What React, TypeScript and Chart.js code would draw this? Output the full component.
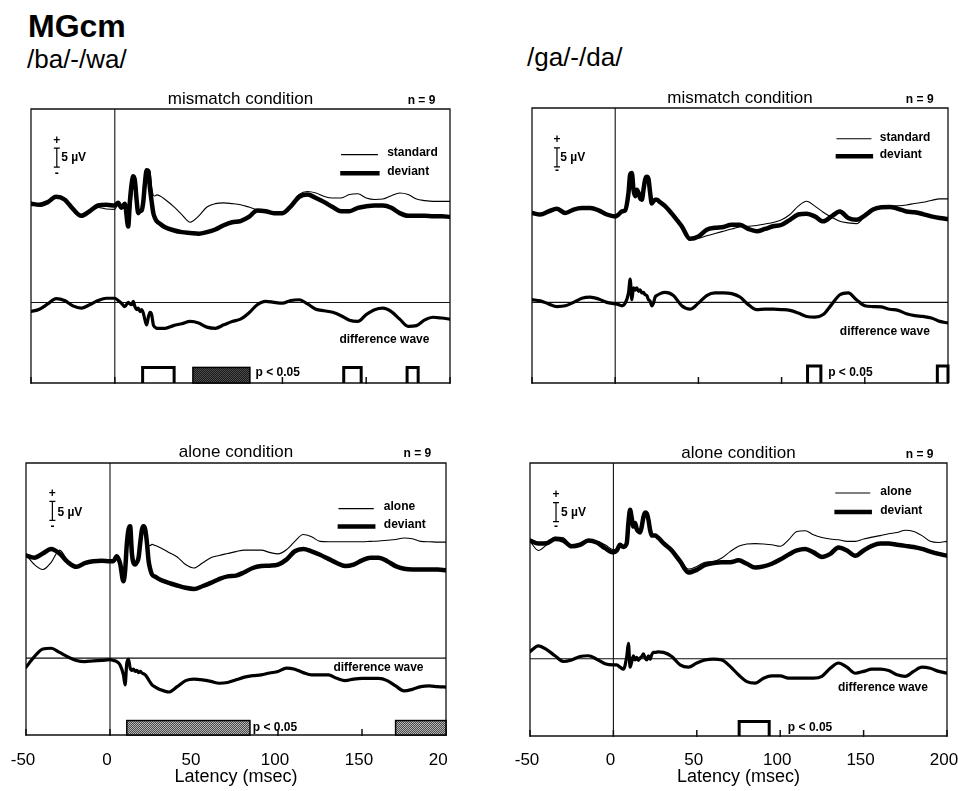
import React, { useEffect, useRef } from "react";
import { Chart, registerables } from "chart.js";

Chart.register(...registerables);

const FONT = '"Liberation Sans", Arial, Helvetica, sans-serif';

// ---------- data ----------
const latency = [
  -50, -45, -40, -35, -30, -25, -20, -15, -10, -5, 0,
  2, 4, 6, 8,
  9, 10, 11, 12, 13, 14, 15, 16, 17, 18, 19, 20, 21, 22, 23, 24, 25,
  27, 30,
  35, 40, 45, 50, 55, 60, 65, 70, 75, 80,
  85, 90, 95, 100, 105, 110, 115, 120, 125, 130,
  135, 140, 145, 150, 155, 160, 165, 170, 175, 180,
  185, 190, 195, 200,
];

const tickValues = [-50, 0, 50, 100, 150, 200];
const tickLabels = ["-50", "0", "50", "100", "150", "200"];

// /ba/-/wa/ mismatch condition (µV, relative to pre-stimulus level of each trace)
const baStandardMismatch = [
  0, -0.3, 0.4, 1.6, 1.0, -1.4, -3.0, -2.0, -1.0, -1.4, -1.5,
  0, -0.8, 0.3, -4.5,
  -3.0, 1.0, 5.5, 7.0, 4.5, -1.5, -1.6, -1.2, 0, 3.0, 7.0, 9.0, 8.5, 4.5, 2.2, 2.0, 2.3,
  2.0, 1.1,
  -0.7, -2.9, -4.9, -3.3, -0.9, 0, 0.2, 0, -0.3, -0.9,
  -1.6, -2.0, -2.5, -2.3, -0.3, 2.4, 3.2, 2.8, 1.9, 1.5,
  1.5, 2.4, 2.6, 1.5, 1.1, 1.2, 2.1, 2.8, 2.4, 1.2,
  0.8, 0.6, 0.6, 0.6,
];
const baDeviantMismatch = [
  0, -0.3, 0.4, 1.8, 1.1, -1.4, -3.2, -2.0, -0.5, -0.3, -0.5,
  0.2, -1.1, 0, -6.0,
  0.5, 5.0, 7.2, 6.0, 1.0, -2.5, -2.0, -1.8, 0.5, 5.5, 8.8, 8.5, 4.0, 0.5, -2.5, -3.8, -4.6,
  -5.3, -6.2,
  -7.0, -7.5, -7.7, -7.9, -7.5, -6.8, -5.7, -4.9, -4.6, -3.5,
  -1.8, -2.0, -2.5, -2.5, -0.7, 1.8, 2.4, 1.5, 0.4, -0.9,
  -2.0, -2.0, -1.1, -0.7, -0.5, -0.5, -1.1, -2.5, -3.2, -3.2,
  -3.2, -3.3, -3.3, -3.5,
];
const baDiffMismatch = [
  -2.4, -1.8, -0.4, 1.0, 0.5, -0.9, -1.5, -0.6, 0.5, 1.1, 1.1,
  0.5, -0.2, -1.1, 0,
  -0.4, -0.6, 0.3, -1.1, -1.9, -1.5, -2.4, -1.9, -2.8, -4.6, -5.9, -3.9, -2.6, -3.2, -5.9, -6.5, -6.8,
  -6.8, -6.8,
  -6.1, -5.6, -5.0, -5.4, -6.5, -6.8, -5.9, -5.0, -4.4, -2.8,
  -0.6, 0.3, 0, -0.2, 0.5, 0.7, -0.4, -1.8, -2.2, -2.6,
  -3.5, -4.7, -5.0, -3.2, -1.9, -1.5, -2.4, -4.4, -6.3, -6.1,
  -4.6, -3.9, -4.1, -4.4,
];

// /ga/-/da/ mismatch condition
const gaStandardMismatch = [
  0.2, -0.2, 0.6, 1.0, 0.2, 1.0, 1.4, 1.2, 0.6, -0.5, -0.8,
  -0.3, 0.5, 0.9, 4.5,
  9.5, 10.0, 6.5, 4.8, 5.8, 5.0, 3.8, 3.8, 6.5, 8.5, 9.2, 8.5, 5.0, 2.8, 3.2, 3.4, 3.3,
  2.8, 1.5,
  -1.0, -4.0, -6.5, -6.6, -6.0, -5.4, -4.8, -4.2, -3.7, -3.5,
  -3.3, -2.9, -2.5, -1.8, -0.4, 1.8, 3.1, 1.8, 0.2, -1.1,
  -2.2, -2.6, -2.8, -0.9, 1.1, 1.5, 1.8, 1.9, 2.1, 2.5,
  2.8, 3.3, 3.7, 3.7,
];
const gaDeviantMismatch = [
  0, -0.4, 0.4, 1.1, 0, 0.9, 1.3, 1.3, 0.7, -0.4, -0.9,
  -0.4, 0.4, 0.7, 5.3,
  10.1, 10.5, 6.1, 4.4, 6.1, 5.3, 3.9, 3.5, 6.1, 8.8, 9.5, 8.9, 5.3, 2.5, 3.1, 3.5, 3.5,
  2.8, 1.8,
  -0.7, -3.5, -6.8, -6.2, -4.4, -3.9, -3.7, -3.1, -3.1, -4.2,
  -4.8, -4.2, -3.5, -3.1, -1.8, -0.4, -0.2, -0.9, -2.2, -0.9,
  0.4, -1.3, -1.8, -0.7, 0.9, 1.5, 1.6, 1.1, 0.4, 0.2,
  -0.3, -0.9, -1.3, -1.6,
];
const gaDiffMismatch = [
  0.7, 0.4, -0.4, -1.1, -0.9, 0, 1.1, 1.4, 0.9, 0, -0.4,
  -0.6, -0.9, -0.2, 2.5,
  6.1, 0.7, 3.8, 3.2, 3.8, 2.9, 3.3, 2.5, 2.6, 2.0, 1.8, 0.7, 0.3, -0.9, -0.2, 1.4, 1.8,
  2.3, 2.6,
  1.8, -0.9, -1.8, -0.2, 1.8, 2.5, 2.5, 2.3, 1.4, -0.6,
  -1.9, -1.8, -1.8, -1.9, -2.1, -2.8, -3.7, -3.9, -3.2, -0.6,
  2.0, 2.5, 0.7, -0.9, -1.1, -1.2, -1.8, -2.1, -3.0, -3.5,
  -3.7, -4.1, -5.0, -5.4,
];

// /ba/-/wa/ alone condition
const baAlone = [
  1.2, -1.4, -2.7, -0.8, 2.4, -0.5, -1.8, -1.0, -0.5, -0.4, -0.5,
  -0.5, 0.6, -0.8, -3.5,
  -2.5, 1.0, 6.0, 8.5, 6.0, 0.5, -0.8, -0.3, 1.0, 4.8, 8.0, 8.8, 8.2, 5.5, 3.5, 3.6, 3.9,
  3.6, 3.0,
  1.8, 0.6, -1.4, -2.3, -1.0, 0.4, 1.0, 1.5, 2.0, 2.4,
  2.4, 2.4, 1.8, 1.4, 2.5, 4.7, 6.5, 5.9, 4.7, 4.6,
  4.6, 4.6, 4.6, 4.6, 4.7, 4.8, 5.0, 5.2, 5.6, 5.4,
  4.7, 4.6, 4.5, 4.5,
];
const baDeviantAlone = [
  1.0, 0.4, 1.5, 2.7, 1.5, -0.8, -2.0, -1.0, -0.5, -0.4, -0.5,
  -0.5, 0.8, -1.1, -5.8,
  -3.0, 3.9, 7.8, 8.7, 1.7, -1.0, -1.4, -0.8, 0.4, 4.3, 7.8, 8.7, 7.8, 4.3, -0.5, -2.7, -4.0,
  -4.6, -5.4,
  -6.2, -6.9, -7.5, -7.8, -7.1, -6.2, -5.2, -4.5, -4.3, -3.4,
  -2.3, -1.8, -1.7, -1.4, -0.1, 2.1, 2.7, 2.1, 1.2, 0.1,
  -1.0, -1.8, -1.4, -0.3, 0.4, 0.4, -0.5, -1.8, -2.5, -2.7,
  -2.7, -2.7, -2.7, -2.9,
];
const baDiffAlone = [
  -2.4, 0.4, 2.4, 2.6, 1.5, 0.3, -0.6, -0.9, -0.7, -0.6, -0.4,
  -0.6, -0.9, -1.8, -4.4,
  -7.0, -1.3, -0.3, -2.6, -3.2, -2.9, -3.5, -3.2, -3.8, -3.5, -3.9, -4.1, -4.4, -5.0, -5.7, -6.4, -7.0,
  -7.6, -8.3,
  -8.9, -7.5, -5.9, -5.5, -5.7, -6.1, -6.6, -6.4, -5.7, -5.0,
  -4.6, -4.4, -3.9, -3.5, -2.6, -2.9, -3.8, -4.4, -4.4, -4.4,
  -5.3, -5.9, -5.5, -5.3, -5.3, -5.3, -5.9, -7.3, -8.6, -8.2,
  -7.5, -7.3, -7.5, -7.6,
];

// /ga/-/da/ alone condition
const daAlone = [
  0.9, -1.5, 0, 2.0, 1.8, -0.3, 0, 0.9, 0.9, 0, -1.3,
  -1.0, 0.3, -0.3, 0.8,
  5.5, 9.0, 7.2, 5.0, 5.5, 4.3, 3.6, 3.4, 5.0, 7.0, 8.3, 8.0, 6.8, 4.2, 2.6, 2.5, 2.4,
  1.8, 0.6,
  -1.2, -3.8, -6.4, -5.7, -4.6, -4.4, -3.5, -1.8, -0.4, 0.2,
  0.3, 0.2, 0, -0.4, 1.3, 3.5, 3.7, 2.6, 1.9, 1.5,
  1.3, 0.9, 0.9, 1.5, 2.0, 2.4, 2.9, 3.2, 3.8, 3.5,
  2.4, 0.9, 0.6, 0.9,
];
const daDeviantAlone = [
  1.1, 0.3, 0.4, 1.5, 1.1, -0.4, 0, 1.1, 0.6, -0.9, -2.0,
  -1.5, 0, -0.6, 0.4,
  5.7, 9.2, 7.0, 4.8, 5.7, 4.1, 3.5, 3.2, 4.8, 7.3, 8.5, 8.2, 6.6, 3.9, 2.4, 2.4, 2.4,
  1.8, 0.4,
  -1.5, -4.4, -7.3, -6.6, -5.3, -4.8, -4.6, -4.6, -4.1, -5.0,
  -6.0, -5.7, -5.0, -3.9, -2.6, -1.5, -1.1, -2.0, -3.2, -2.4,
  -0.7, -1.5, -2.9, -1.5, -0.3, 0.3, 0.3, 0, -0.3, -0.6,
  -1.1, -1.8, -2.4, -2.9,
];
const daDiffAlone = [
  1.9, 3.4, 2.4, 0.8, -0.7, -0.3, 0.6, 0.8, -0.1, -1.3, -1.6,
  -1.6, -2.2, -2.7, 0.6,
  4.1, -2.2, -0.7, 0.8, -0.3, 0.4, -0.4, 0.2, 0.6, 1.3, 0.2, -0.3, 0.8, -0.1, 1.1, 1.7, 1.7,
  1.8, 1.7,
  0.6, -1.6, -2.2, -1.1, -0.3, -0.1, -0.3, -2.0, -4.2, -6.0,
  -6.4, -5.1, -4.5, -4.5, -5.1, -5.1, -5.1, -5.1, -4.6, -2.5,
  -1.1, -2.2, -3.8, -3.3, -2.7, -2.7, -3.1, -4.2, -4.6, -3.3,
  -2.2, -2.5, -3.3, -3.8,
];

// significance intervals (ms): p < 0.05
type Sig = { from: number; to: number; filled: boolean };
const sigBaMismatch: Sig[] = [
  { from: 16.6, to: 35.4, filled: false },
  { from: 46.6, to: 80.6, filled: true },
  { from: 136.6, to: 147, filled: false },
  { from: 174.4, to: 181, filled: false },
];
const sigGaMismatch: Sig[] = [
  { from: 115.6, to: 123.6, filled: false },
  { from: 193.6, to: 200, filled: false },
];
const sigBaAlone: Sig[] = [
  { from: 10, to: 83.3, filled: true },
  { from: 170, to: 200, filled: true },
];
const sigDaAlone: Sig[] = [{ from: 75.4, to: 93.4, filled: false }];

// ---------- panel layout ----------
type Panel = {
  key: string;
  left: number; top: number; width: number; height: number;
  pad: { left: number; right: number; top: number; bottom: number };
  yMin: number; yMax: number; offset: number;
  title: string; titleDy: number; nX: number;
  thinName: string; thin: number[]; thick: number[]; diff: number[];
  sig: Sig[]; sigH: number; shade: "dark" | "mid"; pX: number; pY: number;
  legend: { x0: number; x1: number; y1: number; y2: number; tx: number };
  bar: { x: number; y0: number; plusY: number; minusY: number; tx: number; ty: number };
  diffLabel: { x: number; y: number };
  axis: null | { height: number; padding: number };
};

const panels: Panel[] = [
  {
    key: "tl", left: 10, top: 84, width: 470, height: 312,
    pad: { left: 21, right: 30, top: 25, bottom: 13 },
    yMin: -21.2, yMax: 50.9, offset: 26,
    title: "mismatch condition", titleDy: -5, nX: 183,
    thinName: "standard", thin: baStandardMismatch, thick: baDeviantMismatch, diff: baDiffMismatch,
    sig: sigBaMismatch, sigH: 4.1, shade: "dark", pX: 84, pY: -18.6,
    legend: { x0: 135, x1: 157, y1: 38.9, y2: 34.0, tx: 162.5 },
    bar: { x: -34.6, y0: 35.6, plusY: 42.5, minusY: 34.0, tx: -32, ty: 38.2 },
    diffLabel: { x: 134, y: -9.8 },
    axis: null,
  },
  {
    key: "tr", left: 500, top: 84, width: 458, height: 312,
    pad: { left: 32, right: 10, top: 24, bottom: 13 },
    yMin: -21.2, yMax: 51.1, offset: 23.5,
    title: "mismatch condition", titleDy: -5, nX: 183,
    thinName: "standard", thin: gaStandardMismatch, thick: gaDeviantMismatch, diff: gaDiffMismatch,
    sig: sigGaMismatch, sigH: 4.5, shade: "dark", pX: 128, pY: -18.6,
    legend: { x0: 133, x1: 154, y1: 43.0, y2: 38.4, tx: 159 },
    bar: { x: -35, y0: 35.6, plusY: 42.8, minusY: 34.7, tx: -33, ty: 38 },
    diffLabel: { x: 135, y: -7.6 },
    axis: null,
  },
  {
    key: "bl", left: 0, top: 438, width: 447, height: 353,
    pad: { left: 26, right: 1, top: 25, bottom: 0 },
    yMin: -20.2, yMax: 51.3, offset: 26,
    title: "alone condition", titleDy: -6, nX: 183,
    thinName: "alone", thin: baAlone, thick: baDeviantAlone, diff: baDiffAlone,
    sig: sigBaAlone, sigH: 3.8, shade: "mid", pX: 85, pY: -18.4,
    legend: { x0: 136, x1: 157, y1: 39.3, y2: 34.6, tx: 163 },
    bar: { x: -34.3, y0: 36.2, plusY: 43.2, minusY: 34.5, tx: -31.3, ty: 38.3 },
    diffLabel: { x: 133, y: -2.4 },
    axis: { height: 56, padding: 15 },
  },
  {
    key: "br", left: 500, top: 438, width: 458, height: 353,
    pad: { left: 30, right: 11, top: 25, bottom: 0 },
    yMin: -20.3, yMax: 51.5, offset: 30,
    title: "alone condition", titleDy: -5, nX: 183.6,
    thinName: "alone", thin: daAlone, thick: daDeviantAlone, diff: daDiffAlone,
    sig: sigDaAlone, sigH: 3.8, shade: "dark", pX: 104.6, pY: -18.2,
    legend: { x0: 133, x1: 154, y1: 43.6, y2: 38.6, tx: 160 },
    bar: { x: -34.4, y0: 36.1, plusY: 43.2, minusY: 34.8, tx: -31.4, ty: 38.5 },
    diffLabel: { x: 134.6, y: -7.5 },
    axis: { height: 55, padding: 14 },
  },
];

function toPoints(values: number[], offset: number) {
  return latency.map((t, i) => ({ x: t, y: values[i] + offset }));
}

function makePattern(ctx: CanvasRenderingContext2D, shade: "dark" | "mid") {
  const c = document.createElement("canvas");
  c.width = 2;
  c.height = 2;
  const g = c.getContext("2d")!;
  const a = shade === "dark" ? "#1c1c1c" : "#4a4a4a";
  const b = shade === "dark" ? "#4a4a4a" : "#b5b5b5";
  g.fillStyle = a;
  g.fillRect(0, 0, 2, 2);
  g.fillStyle = b;
  g.fillRect(0, 0, 1, 1);
  g.fillRect(1, 1, 1, 1);
  return ctx.createPattern(c, "repeat");
}

function makeDecor(p: Panel) {
  return {
    id: "decor_" + p.key,
    beforeDatasetsDraw(chart: any) {
      const { ctx, chartArea: a } = chart;
      const x = chart.scales.x;
      const y = chart.scales.y;
      ctx.save();
      ctx.strokeStyle = "#111";
      ctx.lineCap = "butt";
      // frame
      ctx.lineWidth = 1.3;
      ctx.beginPath();
      ctx.moveTo(a.left, a.bottom);
      ctx.lineTo(a.left, a.top);
      ctx.lineTo(a.right, a.top);
      ctx.lineTo(a.right, a.bottom);
      ctx.stroke();
      // x axis line and inward ticks
      ctx.lineWidth = 1.5;
      ctx.beginPath();
      ctx.moveTo(a.left, a.bottom);
      ctx.lineTo(a.right, a.bottom);
      for (const v of tickValues) {
        const px = x.getPixelForValue(v);
        ctx.moveTo(px, a.bottom - 6);
        ctx.lineTo(px, a.bottom + 1);
      }
      ctx.stroke();
      // stimulus onset line
      ctx.lineWidth = 1.1;
      ctx.beginPath();
      const px0 = x.getPixelForValue(0);
      ctx.moveTo(px0, a.top);
      ctx.lineTo(px0, a.bottom);
      // difference baseline
      const py0 = y.getPixelForValue(0);
      ctx.moveTo(a.left, py0);
      ctx.lineTo(a.right, py0);
      ctx.stroke();
      ctx.restore();
    },
    afterDatasetsDraw(chart: any) {
      const { ctx, chartArea: a } = chart;
      const x = chart.scales.x;
      const y = chart.scales.y;
      ctx.save();
      ctx.fillStyle = "#000";
      ctx.strokeStyle = "#000";

      // title and n
      ctx.textBaseline = "alphabetic";
      ctx.textAlign = "center";
      ctx.font = `17px ${FONT}`;
      ctx.fillText(p.title, (a.left + a.right) / 2, a.top + p.titleDy);
      ctx.font = `bold 12px ${FONT}`;
      ctx.fillText("n = 9", x.getPixelForValue(p.nX), a.top + p.titleDy);

      // scale bar
      const bx = x.getPixelForValue(p.bar.x);
      const b0 = y.getPixelForValue(p.bar.y0);
      const b1 = y.getPixelForValue(p.bar.y0 + 5);
      ctx.lineWidth = 1.2;
      ctx.beginPath();
      ctx.moveTo(bx, b0);
      ctx.lineTo(bx, b1);
      ctx.moveTo(bx - 3, b0);
      ctx.lineTo(bx + 3, b0);
      ctx.moveTo(bx - 3, b1);
      ctx.lineTo(bx + 3, b1);
      ctx.stroke();
      ctx.textBaseline = "middle";
      ctx.textAlign = "center";
      ctx.font = `bold 12px ${FONT}`;
      ctx.fillText("+", bx, y.getPixelForValue(p.bar.plusY));
      ctx.fillText("-", bx, y.getPixelForValue(p.bar.minusY));
      ctx.textAlign = "left";
      ctx.fillText("5 µV", x.getPixelForValue(p.bar.tx), y.getPixelForValue(p.bar.ty));

      // legend
      const L = p.legend;
      ctx.lineCap = "butt";
      ctx.lineWidth = 1.1;
      ctx.beginPath();
      ctx.moveTo(x.getPixelForValue(L.x0), y.getPixelForValue(L.y1));
      ctx.lineTo(x.getPixelForValue(L.x1), y.getPixelForValue(L.y1));
      ctx.stroke();
      ctx.lineWidth = 4.5;
      ctx.beginPath();
      ctx.moveTo(x.getPixelForValue(L.x0 - 0.5), y.getPixelForValue(L.y2));
      ctx.lineTo(x.getPixelForValue(L.x1 + 1), y.getPixelForValue(L.y2));
      ctx.stroke();
      ctx.fillText(p.thinName, x.getPixelForValue(L.tx), y.getPixelForValue(L.y1 + 0.4));
      ctx.fillText("deviant", x.getPixelForValue(L.tx), y.getPixelForValue(L.y2 + 0.4));

      // difference label
      ctx.fillText("difference wave", x.getPixelForValue(p.diffLabel.x), y.getPixelForValue(p.diffLabel.y));

      // significance markers
      const yTop = y.getPixelForValue(p.yMin + p.sigH);
      const pattern = makePattern(ctx, p.shade);
      for (const s of p.sig) {
        const x0 = x.getPixelForValue(s.from);
        const x1 = x.getPixelForValue(s.to);
        if (s.filled) {
          ctx.fillStyle = pattern || "#444";
          ctx.fillRect(x0, yTop, x1 - x0, a.bottom - yTop);
          ctx.lineWidth = 1.5;
          ctx.strokeRect(x0, yTop, x1 - x0, a.bottom - yTop);
          ctx.fillStyle = "#000";
        } else {
          ctx.lineWidth = 3;
          ctx.lineJoin = "miter";
          ctx.beginPath();
          ctx.moveTo(x0, a.bottom);
          ctx.lineTo(x0, yTop);
          ctx.lineTo(x1, yTop);
          ctx.lineTo(x1, a.bottom);
          ctx.stroke();
        }
      }
      ctx.fillStyle = "#000";
      ctx.font = `bold 12px ${FONT}`;
      ctx.textAlign = "left";
      ctx.fillText("p < 0.05", x.getPixelForValue(p.pX), y.getPixelForValue(p.pY));
      ctx.restore();
    },
  };
}

function PanelChart({ p }: { p: Panel }) {
  const ref = useRef<HTMLCanvasElement>(null);
  useEffect(() => {
    const canvas = ref.current;
    if (!canvas) return;
    const axis = p.axis;
    const chart = new Chart(canvas, {
      type: "line",
      data: {
        datasets: [
          { label: "deviant", data: toPoints(p.thick, p.offset), borderColor: "#000", borderWidth: 4.5 },
          { label: p.thinName, data: toPoints(p.thin, p.offset), borderColor: "#000", borderWidth: 1.1 },
          { label: "difference wave", data: toPoints(p.diff, 0), borderColor: "#000", borderWidth: 3.2 },
        ],
      },
      options: {
        responsive: false,
        maintainAspectRatio: false,
        animation: false,
        events: [],
        layout: { padding: p.pad },
        elements: {
          point: { radius: 0 },
          line: {
            cubicInterpolationMode: "monotone",
            borderJoinStyle: "round",
            borderCapStyle: "round",
            fill: false,
          },
        },
        plugins: {
          legend: { display: false },
          tooltip: { enabled: false },
          title: { display: false },
        },
        scales: {
          x: {
            type: "linear",
            min: -50,
            max: 200,
            display: !!axis,
            grid: { display: false, drawTicks: false },
            border: { display: false },
            afterBuildTicks: (s: any) => {
              s.ticks = tickValues.map((v) => ({ value: v }));
            },
            ticks: {
              color: "#000",
              font: { family: FONT, size: 17 },
              padding: axis ? axis.padding : 0,
              labelOffset: -3,
              maxRotation: 0,
              autoSkip: false,
              callback: (_v: any, i: number) => tickLabels[i],
            },
            title: {
              display: true,
              text: "Latency (msec)",
              color: "#000",
              font: { family: FONT, size: 18 },
              padding: { top: 0, bottom: 3 },
            },
            afterFit: (s: any) => {
              if (axis) {
                s.paddingLeft = 0;
                s.paddingRight = 0;
                s.height = axis.height;
              }
            },
          },
          y: { type: "linear", min: p.yMin, max: p.yMax, display: false },
        },
      } as any,
      plugins: [makeDecor(p)],
    });
    return () => chart.destroy();
  }, [p]);
  return (
    <canvas
      ref={ref}
      width={p.width}
      height={p.height}
      style={{ position: "absolute", left: p.left, top: p.top, width: p.width, height: p.height }}
    />
  );
}

export default function App() {
  return (
    <div
      style={{
        position: "absolute",
        left: 0,
        top: 0,
        width: 958,
        height: 791,
        background: "#fff",
        overflow: "hidden",
        fontFamily: FONT,
        color: "#000",
      }}
    >
      <div style={{ position: "absolute", left: 28, top: 10, fontSize: 32, fontWeight: "bold", lineHeight: "32px", whiteSpace: "nowrap" }}>
        MGcm
      </div>
      <div style={{ position: "absolute", left: 27, top: 46, fontSize: 26, lineHeight: "26px", whiteSpace: "nowrap" }}>
        /ba/-/wa/
      </div>
      <div style={{ position: "absolute", left: 527, top: 44, fontSize: 26, lineHeight: "26px", whiteSpace: "nowrap" }}>
        /ga/-/da/
      </div>
      {panels.map((p) => (
        <PanelChart key={p.key} p={p} />
      ))}
    </div>
  );
}
